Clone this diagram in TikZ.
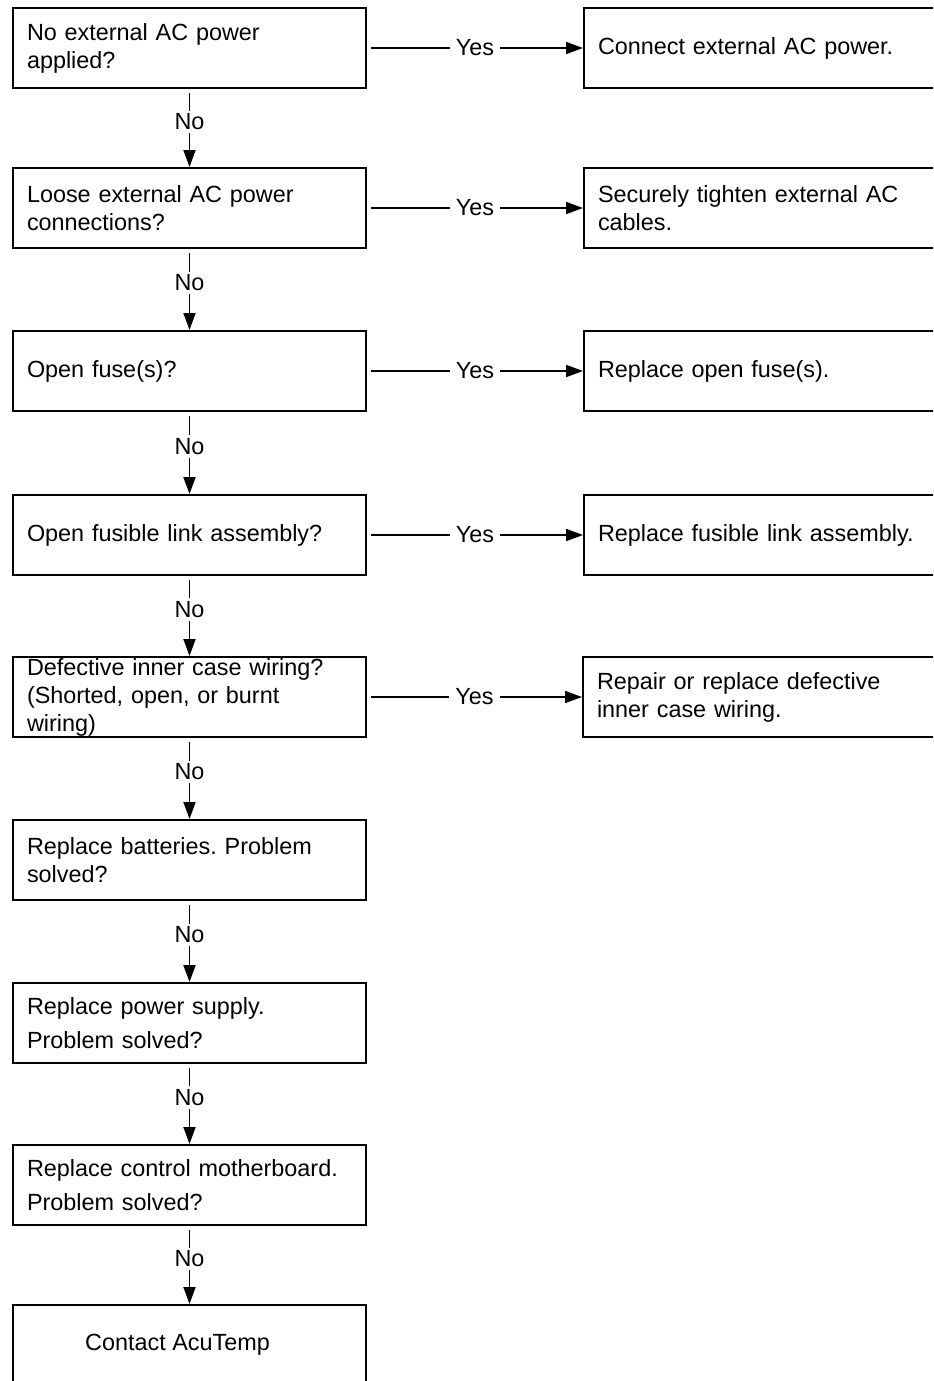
\documentclass[tikz,border=0pt]{standalone}
\usepackage{fontspec}
\setmainfont{Liberation Sans}
\frenchspacing
\usetikzlibrary{arrows.meta}

\begin{document}
\begin{tikzpicture}[x=0.5pt, y=-0.5pt,
  every node/.style={font=\fontsize{11.7}{14}\selectfont},
  qbox/.style={shape=rectangle, draw, line width=1pt, minimum width=176.5pt, minimum height=40pt, text width=162.5pt, inner xsep=7pt, align=left},
  abox/.style={shape=rectangle, draw, line width=1pt, minimum width=188pt, minimum height=40pt, text width=174pt, inner xsep=7pt, align=left},
  endbox/.style={shape=rectangle, draw, line width=1pt, minimum width=176.5pt, minimum height=40pt, align=center},
  lbl/.style={fill=white, inner xsep=3pt, inner ysep=1.5pt},
  yesline/.style={line width=0.9pt, shorten <=2pt, -{Triangle[length=8.5pt,width=6pt]}},
  noline/.style={line width=0.9pt, shorten <=2pt, -{Triangle[length=8.5pt,width=6pt]}}]

\clip (0,0) rectangle (933,1381);

\node[qbox] (q1) at (189.5,48) {No external AC power\\applied?};
\node[qbox] (q2) at (189.5,208) {Loose external AC power\\connections?};
\node[qbox] (q3) at (189.5,371) {Open fuse(s)?};
\node[qbox] (q4) at (189.5,535) {Open fusible link assembly?};
\node[qbox, inner ysep=0pt] (q5) at (189.5,697) {Defective inner case wiring?\\(Shorted, open, or burnt\\wiring)};
\node[qbox] (q6) at (189.5,860) {Replace batteries. Problem\\solved?};
\node[qbox] (q7) at (189.5,1023) {Replace power supply.\\[3pt]Problem solved?};
\node[qbox] (q8) at (189.5,1185) {Replace control motherboard.\\[3pt]Problem solved?};
\node[endbox] (e1) at (189.5,1345) {\hspace*{-12pt}Contact AcuTemp};

\node[abox] (a1) at (772,48) {Connect external AC power.};
\node[abox] (a2) at (772,208) {Securely tighten external AC\\cables.};
\node[abox] (a3) at (772,371) {Replace open fuse(s).};
\node[abox] (a4) at (772,535) {Replace fusible link assembly.};
\node[abox] (a5) at (771,697) {Repair or replace defective\\inner case wiring.};

\draw[yesline] (q1) -- node[lbl] {Yes} (a1);
\draw[yesline] (q2) -- node[lbl] {Yes} (a2);
\draw[yesline] (q3) -- node[lbl] {Yes} (a3);
\draw[yesline] (q4) -- node[lbl] {Yes} (a4);
\draw[yesline] (q5) -- node[lbl] {Yes} (a5);

\draw[noline] (q1) -- node[lbl, pos=0.42] {No} (q2);
\draw[noline] (q2) -- node[lbl, pos=0.42] {No} (q3);
\draw[noline] (q3) -- node[lbl, pos=0.42] {No} (q4);
\draw[noline] (q4) -- node[lbl, pos=0.42] {No} (q5);
\draw[noline] (q5) -- node[lbl, pos=0.42] {No} (q6);
\draw[noline] (q6) -- node[lbl, pos=0.42] {No} (q7);
\draw[noline] (q7) -- node[lbl, pos=0.42] {No} (q8);
\draw[noline] (q8) -- node[lbl, pos=0.42] {No} (e1);
\end{tikzpicture}
\end{document}
